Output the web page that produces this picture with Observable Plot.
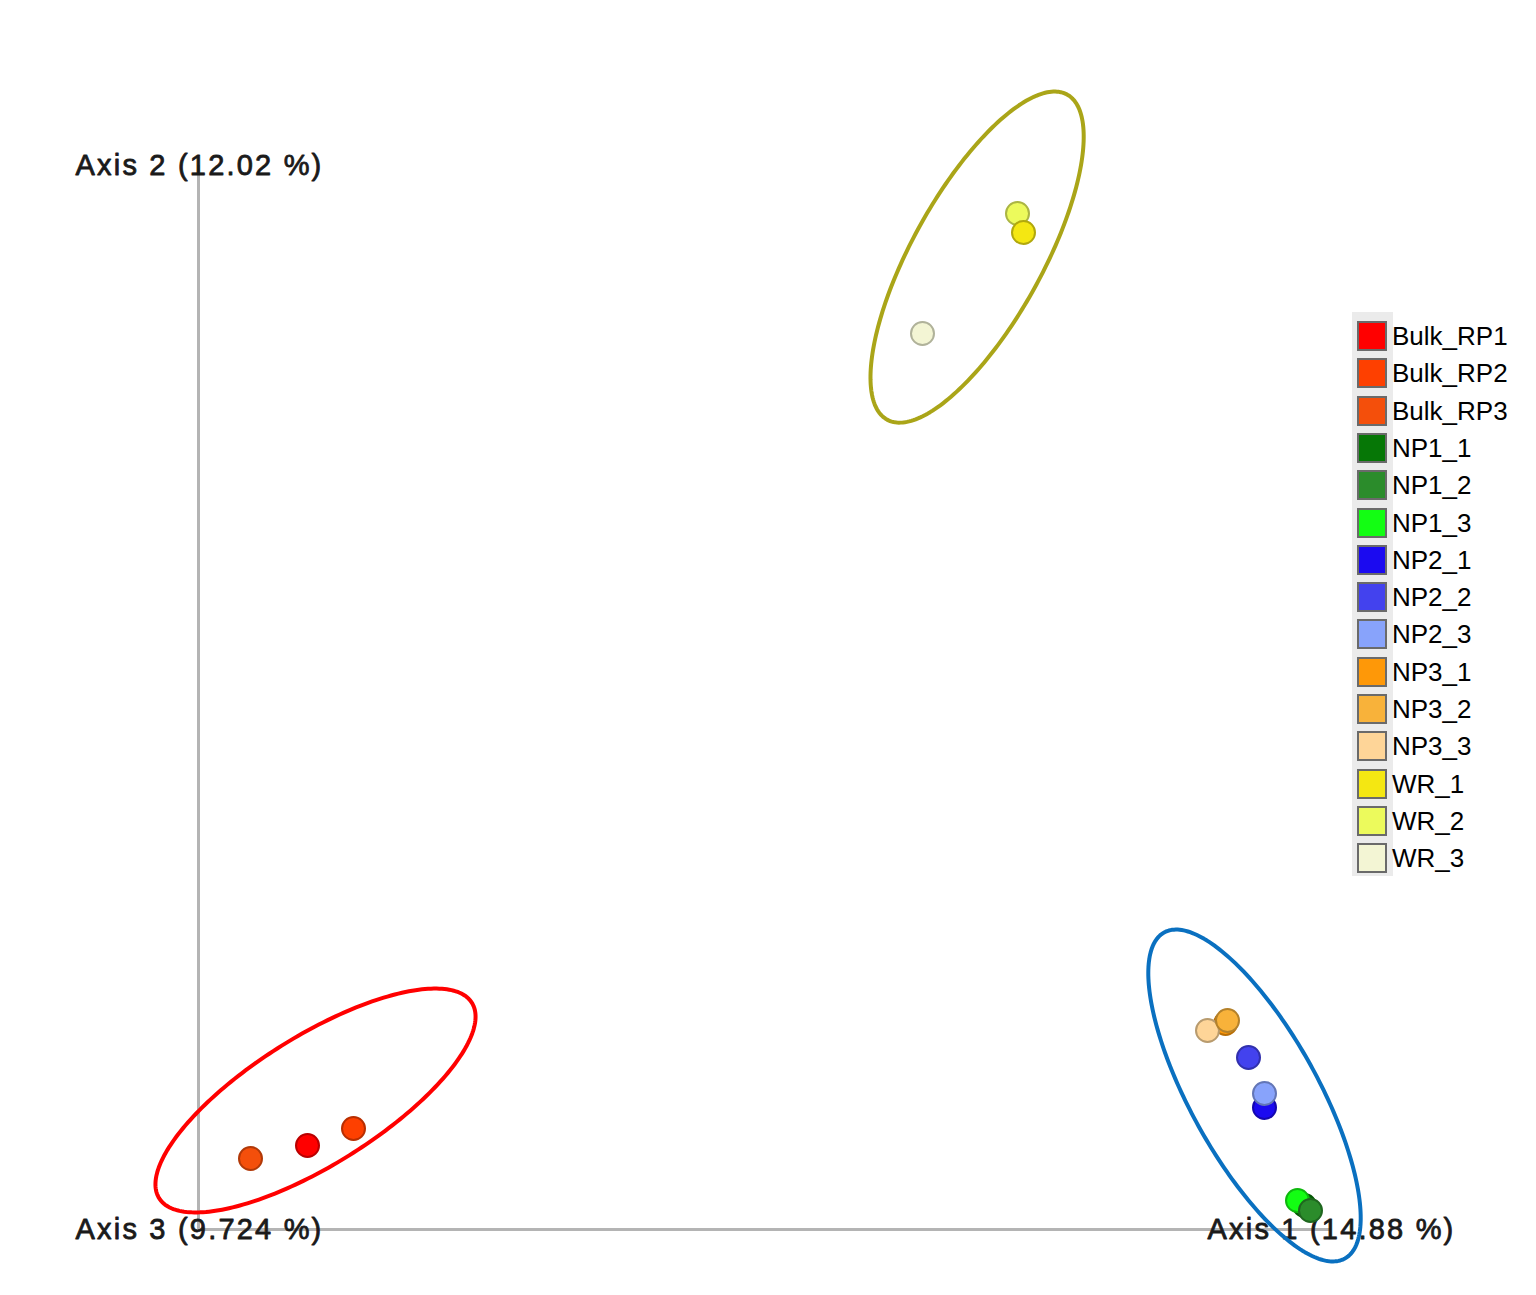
<!DOCTYPE html>
<html><head><meta charset="utf-8">
<script src="https://cdn.jsdelivr.net/npm/d3@7"></script>
<script src="https://cdn.jsdelivr.net/npm/@observablehq/plot@0.6"></script>
<style>
body{margin:0;background:#fff;font-family:"Liberation Sans",Arial,sans-serif;}
#wrap{position:relative;width:1536px;height:1295px;overflow:hidden;}
#wrap svg{position:absolute;left:0;top:0;}
#wrap svg text{letter-spacing:2.2px;}
#legendbg{position:absolute;left:1352px;top:312px;width:41px;height:564px;background:#ebebeb;}
.row{position:absolute;left:1357px;height:30px;display:flex;align-items:center;white-space:nowrap;}
.sw{width:26px;height:26px;border:2px solid #6a6a6a;}
.lab{font-size:26px;color:#000;margin-left:5px;line-height:30px;}
</style></head>
<body><div id="wrap"></div>
<script>
// ---- data ----
const samples = ["Bulk_RP1","Bulk_RP2","Bulk_RP3","NP1_1","NP1_2","NP1_3","NP2_1","NP2_2","NP2_3","NP3_1","NP3_2","NP3_3","WR_1","WR_2","WR_3"];
const sampleColors = ["#ff0000","#fe4000","#f44f0b","#067706","#2b8c2b","#13fe13","#1b0af0","#4342ee","#88a3fb","#fe9808","#f8b23a","#fed598","#f4e712","#ecfa5c","#f3f5d4"];
const axis1Scores = [-0.2455,-0.2225,-0.2740,0.2530,0.2560,0.2495,0.2330,0.2250,0.2330,0.2135,0.2145,0.2045,0.1125,0.1095,0.0620];
const axis2Scores = [-0.2080,-0.1995,-0.2145,-0.2380,-0.2405,-0.2355,-0.1890,-0.1640,-0.1820,-0.1470,-0.1455,-0.1505,0.2485,0.2580,0.1980];
const drawOrder = ["Bulk_RP1","Bulk_RP2","Bulk_RP3","NP1_1","NP1_3","NP1_2","NP2_1","NP2_3","NP2_2","NP3_1","NP3_3","NP3_2","WR_3","WR_2","WR_1"];

const ellipseGroups = ["Bulk","WR","NP"];
const ellipseColors = ["#ff0000","#aaa518","#0a70c0"];
const ellipseCx = [-0.2415, 0.0893, 0.2280];
const ellipseCy = [-0.1855, 0.2362, -0.1830];
const ellipseA = [0.0922, 0.0929, 0.0932];
const ellipseB = [0.0322, 0.0326, 0.0319];
const ellipseAngleDeg = [32, 61, -61];

const axisLabels = ["Axis 1 (14.88 %)","Axis 2 (12.02 %)","Axis 3 (9.724 %)"];
const axisOrigin = [-0.30, -0.25];
const axisEnd = [0.266, 0.282];

// ---- build tables ----
const points = drawOrder.map(s => {
  const i = samples.indexOf(s);
  return {sample: s, x: axis1Scores[i], y: axis2Scores[i], fill: sampleColors[i], stroke: d3.color(sampleColors[i]).darker(0.9).formatHex()};
});

const ellipsePts = [];
ellipseGroups.forEach((g, k) => {
  const th = ellipseAngleDeg[k] * Math.PI / 180;
  for (let j = 0; j <= 240; j++) {
    const t = j / 240 * 2 * Math.PI;
    ellipsePts.push({
      group: g, color: ellipseColors[k],
      x: ellipseCx[k] + ellipseA[k]*Math.cos(th)*Math.cos(t) - ellipseB[k]*Math.sin(th)*Math.sin(t),
      y: ellipseCy[k] + ellipseA[k]*Math.sin(th)*Math.cos(t) + ellipseB[k]*Math.cos(th)*Math.sin(t)
    });
  }
});

const labelRows = [
  {label: axisLabels[1], x: axisOrigin[0], y: axisEnd[1]},
  {label: axisLabels[2], x: axisOrigin[0], y: axisOrigin[1]},
  {label: axisLabels[0], x: axisEnd[0], y: axisOrigin[1]}
];

const W = 1536, H = 1295, PX = 2000, ox = 198, oy = 1229;
const chart = Plot.plot({
  width: W, height: H,
  marginTop: 0, marginBottom: 0, marginLeft: 0, marginRight: 0,
  x: {domain: [axisOrigin[0] - ox/PX, axisOrigin[0] + (W-ox)/PX], axis: null},
  y: {domain: [axisOrigin[1] - (H-oy)/PX, axisOrigin[1] + oy/PX], axis: null},
  style: {fontFamily: "'Liberation Sans', Arial, sans-serif", background: "transparent"},
  marks: [
    Plot.ruleY([axisOrigin[1]], {x1: axisOrigin[0], x2: axisEnd[0], stroke: "#b4b4b4", strokeWidth: 3}),
    Plot.ruleX([axisOrigin[0]], {y1: axisOrigin[1], y2: axisEnd[1], stroke: "#b4b4b4", strokeWidth: 3}),
    Plot.text(labelRows, {x: "x", y: "y", text: "label", fontSize: 29, fill: "#1a1a1a", stroke: "#1a1a1a", strokeWidth: 0.8, textAnchor: "middle", lineAnchor: "middle", dx: 1}),
    Plot.dot(points, {x: "x", y: "y", r: 11.5, fill: "fill", stroke: "stroke", strokeWidth: 2}),
    Plot.line(ellipsePts, {x: "x", y: "y", z: "group", stroke: "color", strokeWidth: 4, curve: "linear-closed"})
  ]
});
const wrap = document.getElementById("wrap");
wrap.appendChild(chart);

// legend
const bg = document.createElement("div"); bg.id = "legendbg"; wrap.appendChild(bg);
samples.forEach((s, i) => {
  const row = document.createElement("div");
  row.className = "row";
  row.style.top = (336 + i * 37.3 - 15) + "px";
  row.innerHTML = `<div class="sw" style="background:${sampleColors[i]}"></div><span class="lab">${s}</span>`;
  wrap.appendChild(row);
});
</script>
</body></html>
